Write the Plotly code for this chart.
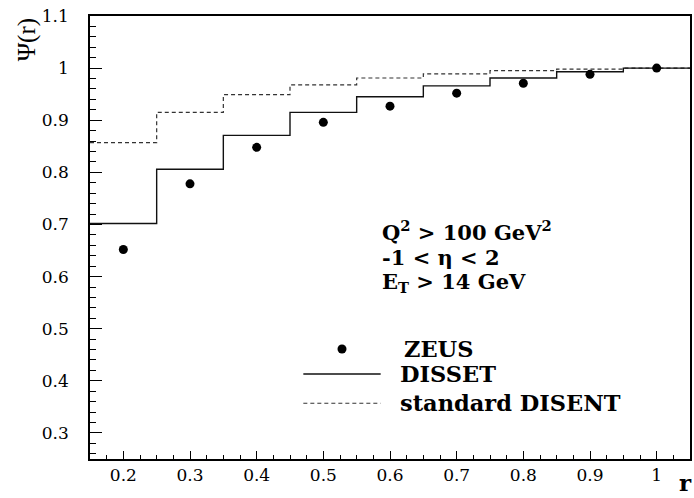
import plotly.graph_objects as go

# ZEUS integrated jet shape measurements
r_points = [0.2, 0.3, 0.4, 0.5, 0.6, 0.7, 0.8, 0.9, 1.0]
psi_zeus = [0.652, 0.778, 0.848, 0.896, 0.927, 0.952, 0.971, 0.988, 1.0]

# Histogram bin edges and contents for the two calculations
bin_edges = [0.15, 0.25, 0.35, 0.45, 0.55, 0.65, 0.75, 0.85, 0.95, 1.05]
psi_disset = [0.702, 0.806, 0.871, 0.915, 0.945, 0.966, 0.981, 0.993, 1.0]
psi_disent = [0.857, 0.915, 0.949, 0.968, 0.981, 0.989, 0.995, 0.998, 1.0]

cut_lines = ["Q<sup>2</sup> > 100 GeV<sup>2</sup>", "-1 < η < 2", "E<sub>T</sub> > 14 GeV"]
legend_labels = ["ZEUS", "DISSET", "standard DISENT"]

WIDE_SERIF = "DejaVu Serif"
SERIF = "Liberation Serif"

fig = go.Figure()

# step histograms: repeat the last content so the final bin is closed
fig.add_trace(go.Scatter(
    x=bin_edges, y=psi_disent + psi_disent[-1:], mode="lines", line_shape="hv",
    line=dict(color="#333333", width=1.2, dash="4px,3px"), showlegend=False,
))
fig.add_trace(go.Scatter(
    x=bin_edges, y=psi_disset + psi_disset[-1:], mode="lines", line_shape="hv",
    line=dict(color="#111111", width=1.4), showlegend=False,
))
fig.add_trace(go.Scatter(
    x=r_points, y=psi_zeus, mode="markers",
    marker=dict(color="black", size=9, symbol="circle"), showlegend=False,
))

# hand-placed legend in data coordinates
leg_x0, leg_x1, leg_mark, leg_text = 0.470, 0.586, 0.528, 0.612
leg_y = [0.461, 0.413, 0.357]
fig.add_trace(go.Scatter(
    x=[leg_mark], y=[leg_y[0]], mode="markers",
    marker=dict(color="black", size=9), showlegend=False, hoverinfo="skip",
))
fig.add_trace(go.Scatter(
    x=[leg_x0, leg_x1], y=[leg_y[1]] * 2, mode="lines",
    line=dict(color="#111111", width=1.4), showlegend=False, hoverinfo="skip",
))
fig.add_trace(go.Scatter(
    x=[leg_x0, leg_x1], y=[leg_y[2]] * 2, mode="lines",
    line=dict(color="#333333", width=1.2, dash="4px,3px"), showlegend=False, hoverinfo="skip",
))

annotations = []
for i, (lab, yy) in enumerate(zip(legend_labels, leg_y)):
    annotations.append(dict(
        x=leg_text + (0.006 if i == 0 else 0.0), y=yy, xref="x", yref="y",
        text=f"<b>{lab}</b>", showarrow=False, xanchor="left", yanchor="middle",
        font=dict(family=WIDE_SERIF, size=22.5, color="black"),
    ))

for line, yy in zip(cut_lines, [0.688, 0.637, 0.588]):
    annotations.append(dict(
        x=0.585, y=yy, xref="x", yref="y", text=f"<b>{line}</b>",
        showarrow=False, xanchor="left", yanchor="middle",
        font=dict(family=WIDE_SERIF, size=21, color="black"),
    ))

# axis titles
annotations.append(dict(
    x=-0.105, y=0.945, xref="paper", yref="paper", text="Ψ(r)", showarrow=False,
    textangle=-90, xanchor="center", yanchor="middle",
    font=dict(family=SERIF, size=25, color="black"),
))
annotations.append(dict(
    x=0.992, y=-0.0875, xref="paper", yref="paper", text="<b>r</b>", showarrow=False,
    xanchor="center", yanchor="bottom", font=dict(family=WIDE_SERIF, size=23, color="black"),
))

fig.update_layout(
    width=694, height=498,
    margin=dict(l=90, r=2, t=16, b=39),
    paper_bgcolor="white", plot_bgcolor="white",
    annotations=annotations,
    showlegend=False,
    font=dict(family=WIDE_SERIF),
)
fig.update_xaxes(
    range=[0.15, 1.05], tick0=0, dtick=0.1, ticks="inside", ticklen=8, tickwidth=1.2,
    tickcolor="black", showline=True, linecolor="black", linewidth=1.5, mirror=True,
    showgrid=False, zeroline=False,
    minor=dict(dtick=0.025, ticks="inside", ticklen=4, tickcolor="black", tickwidth=1, showgrid=False),
    tickfont=dict(family=WIDE_SERIF, size=17, color="black"),
)
fig.update_yaxes(
    range=[0.25, 1.1], tick0=0, dtick=0.1, ticks="inside", ticklen=12, tickwidth=1.2,
    tickcolor="black", showline=True, linecolor="black", linewidth=1.5, mirror=True,
    showgrid=False, zeroline=False, ticklabelstandoff=16,
    minor=dict(dtick=0.02, ticks="inside", ticklen=6, tickcolor="black", tickwidth=1, showgrid=False),
    tickfont=dict(family=WIDE_SERIF, size=17, color="black"),
)

fig.write_html("out.html")
